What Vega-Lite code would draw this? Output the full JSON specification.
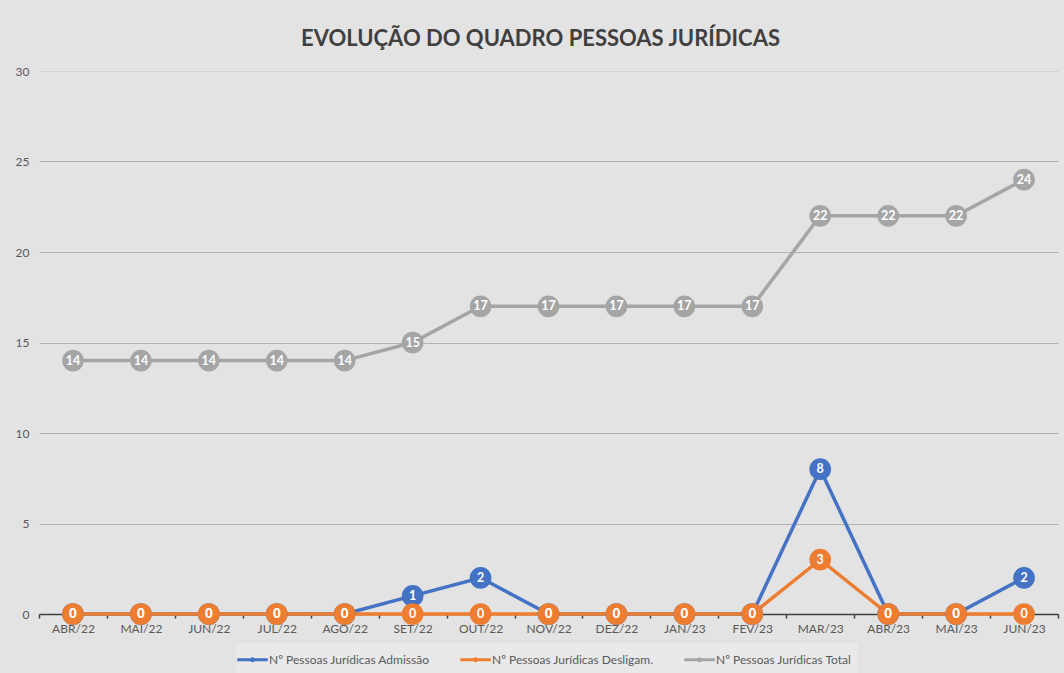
{
  "$schema": "https://vega.github.io/schema/vega-lite/v6.json",
  "width": 1019,
  "height": 543,
  "autosize": {"type": "none"},
  "padding": {"left": 39, "top": 71, "right": 6, "bottom": 59},
  "background": "#e3e3e3",
  "title": {
    "text": "EVOLUÇÃO DO QUADRO PESSOAS JURÍDICAS",
    "font": "Lato",
    "fontSize": 22,
    "fontWeight": "bold",
    "color": "#404040",
    "anchor": "middle",
    "dx": -8,
    "offset": 14
  },
  "data": {
    "values": [
      {"mes": "ABR/22", "serie": "Nº Pessoas Jurídicas Admissão", "valor": 0},
      {"mes": "MAI/22", "serie": "Nº Pessoas Jurídicas Admissão", "valor": 0},
      {"mes": "JUN/22", "serie": "Nº Pessoas Jurídicas Admissão", "valor": 0},
      {"mes": "JUL/22", "serie": "Nº Pessoas Jurídicas Admissão", "valor": 0},
      {"mes": "AGO/22", "serie": "Nº Pessoas Jurídicas Admissão", "valor": 0},
      {"mes": "SET/22", "serie": "Nº Pessoas Jurídicas Admissão", "valor": 1},
      {"mes": "OUT/22", "serie": "Nº Pessoas Jurídicas Admissão", "valor": 2},
      {"mes": "NOV/22", "serie": "Nº Pessoas Jurídicas Admissão", "valor": 0},
      {"mes": "DEZ/22", "serie": "Nº Pessoas Jurídicas Admissão", "valor": 0},
      {"mes": "JAN/23", "serie": "Nº Pessoas Jurídicas Admissão", "valor": 0},
      {"mes": "FEV/23", "serie": "Nº Pessoas Jurídicas Admissão", "valor": 0},
      {"mes": "MAR/23", "serie": "Nº Pessoas Jurídicas Admissão", "valor": 8},
      {"mes": "ABR/23", "serie": "Nº Pessoas Jurídicas Admissão", "valor": 0},
      {"mes": "MAI/23", "serie": "Nº Pessoas Jurídicas Admissão", "valor": 0},
      {"mes": "JUN/23", "serie": "Nº Pessoas Jurídicas Admissão", "valor": 2},
      {"mes": "ABR/22", "serie": "Nº Pessoas Jurídicas Desligam.", "valor": 0},
      {"mes": "MAI/22", "serie": "Nº Pessoas Jurídicas Desligam.", "valor": 0},
      {"mes": "JUN/22", "serie": "Nº Pessoas Jurídicas Desligam.", "valor": 0},
      {"mes": "JUL/22", "serie": "Nº Pessoas Jurídicas Desligam.", "valor": 0},
      {"mes": "AGO/22", "serie": "Nº Pessoas Jurídicas Desligam.", "valor": 0},
      {"mes": "SET/22", "serie": "Nº Pessoas Jurídicas Desligam.", "valor": 0},
      {"mes": "OUT/22", "serie": "Nº Pessoas Jurídicas Desligam.", "valor": 0},
      {"mes": "NOV/22", "serie": "Nº Pessoas Jurídicas Desligam.", "valor": 0},
      {"mes": "DEZ/22", "serie": "Nº Pessoas Jurídicas Desligam.", "valor": 0},
      {"mes": "JAN/23", "serie": "Nº Pessoas Jurídicas Desligam.", "valor": 0},
      {"mes": "FEV/23", "serie": "Nº Pessoas Jurídicas Desligam.", "valor": 0},
      {"mes": "MAR/23", "serie": "Nº Pessoas Jurídicas Desligam.", "valor": 3},
      {"mes": "ABR/23", "serie": "Nº Pessoas Jurídicas Desligam.", "valor": 0},
      {"mes": "MAI/23", "serie": "Nº Pessoas Jurídicas Desligam.", "valor": 0},
      {"mes": "JUN/23", "serie": "Nº Pessoas Jurídicas Desligam.", "valor": 0},
      {"mes": "ABR/22", "serie": "Nº Pessoas Jurídicas Total", "valor": 14},
      {"mes": "MAI/22", "serie": "Nº Pessoas Jurídicas Total", "valor": 14},
      {"mes": "JUN/22", "serie": "Nº Pessoas Jurídicas Total", "valor": 14},
      {"mes": "JUL/22", "serie": "Nº Pessoas Jurídicas Total", "valor": 14},
      {"mes": "AGO/22", "serie": "Nº Pessoas Jurídicas Total", "valor": 14},
      {"mes": "SET/22", "serie": "Nº Pessoas Jurídicas Total", "valor": 15},
      {"mes": "OUT/22", "serie": "Nº Pessoas Jurídicas Total", "valor": 17},
      {"mes": "NOV/22", "serie": "Nº Pessoas Jurídicas Total", "valor": 17},
      {"mes": "DEZ/22", "serie": "Nº Pessoas Jurídicas Total", "valor": 17},
      {"mes": "JAN/23", "serie": "Nº Pessoas Jurídicas Total", "valor": 17},
      {"mes": "FEV/23", "serie": "Nº Pessoas Jurídicas Total", "valor": 17},
      {"mes": "MAR/23", "serie": "Nº Pessoas Jurídicas Total", "valor": 22},
      {"mes": "ABR/23", "serie": "Nº Pessoas Jurídicas Total", "valor": 22},
      {"mes": "MAI/23", "serie": "Nº Pessoas Jurídicas Total", "valor": 22},
      {"mes": "JUN/23", "serie": "Nº Pessoas Jurídicas Total", "valor": 24}
    ]
  },
  "encoding": {
    "x": {
      "field": "mes",
      "type": "ordinal",
      "sort": null,
      "scale": {"paddingInner": 0, "paddingOuter": 0},
      "axis": {
        "title": null,
        "labelAngle": 0,
        "labelFont": "Lato",
        "labelFontSize": 12,
        "labelColor": "#595959",
        "labelPadding": 5,
        "domainColor": "#404040",
        "domainWidth": 1.5,
        "tickColor": "#404040",
        "tickWidth": 1.5,
        "tickSize": 4,
        "bandPosition": 0,
        "tickBand": "extent",
        "grid": false
      }
    },
    "y": {
      "field": "valor",
      "type": "quantitative",
      "scale": {"domain": [0, 30]},
      "axis": {
        "title": null,
        "values": [0, 5, 10, 15, 20, 25, 30],
        "labelFont": "Lato",
        "labelFontSize": 12,
        "labelColor": "#595959",
        "labelPadding": 10,
        "ticks": false,
        "domain": false,
        "grid": true,
        "gridColor": {"condition": {"test": "datum.value == 30", "value": "#d2d2d2"}, "value": "#b0b0b0"},
        "gridWidth": 1
      }
    },
    "color": {
      "field": "serie",
      "type": "nominal",
      "scale": {
        "domain": ["Nº Pessoas Jurídicas Admissão", "Nº Pessoas Jurídicas Desligam.", "Nº Pessoas Jurídicas Total"],
        "range": ["#4472C4", "#ED7D31", "#A5A5A5"]
      },
      "legend": {
        "title": null,
        "orient": "none",
        "legendX": 197,
        "legendY": 572,
        "direction": "horizontal",
        "labelFont": "Lato",
        "labelFontSize": 12,
        "labelColor": "#595959",
        "labelLimit": 400,
        "labelOffset": 6,
        "symbolType": "M-1.7,0H1.7M-0.12,0A0.12,0.12 0 1,0 0.12,0A0.12,0.12 0 1,0 -0.12,0",
        "symbolSize": 324,
        "symbolStrokeWidth": 3,
        "columnPadding": 24,
        "fillColor": "#e9e9e9",
        "padding": 6
      }
    }
  },
  "layer": [
    {"mark": {"type": "line", "strokeWidth": 3.5}},
    {"mark": {"type": "point", "filled": true, "opacity": 1, "size": 470}},
    {
      "mark": {"type": "text", "color": "white", "font": "Lato", "fontSize": 12.5, "fontWeight": "bold"},
      "encoding": {"text": {"field": "valor", "type": "quantitative"}, "color": {"value": "white"}}
    }
  ],
  "config": {"view": {"stroke": null}}
}
